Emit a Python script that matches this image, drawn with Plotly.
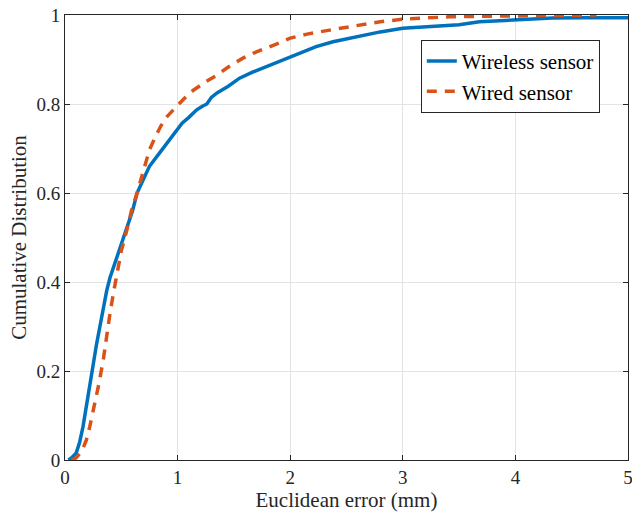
import plotly.graph_objects as go

wireless_x = [0.03, 0.06, 0.10, 0.13, 0.16, 0.20, 0.24, 0.28, 0.31, 0.34, 0.37, 0.40, 0.44, 0.48,
              0.52, 0.55, 0.60, 0.64, 0.70, 0.75, 0.81, 0.87, 0.93, 0.99, 1.04, 1.10, 1.17, 1.22,
              1.26, 1.30, 1.35, 1.45, 1.55, 1.67, 1.79, 1.90, 2.00, 2.12, 2.23, 2.38, 2.53, 2.70,
              2.80, 3.00, 3.30, 3.50, 3.68, 4.04, 4.33, 4.60, 5.00]
wireless_y = [0.0, 0.005, 0.016, 0.04, 0.075, 0.14, 0.20, 0.26, 0.30, 0.345, 0.38, 0.41, 0.44, 0.47,
              0.50, 0.517, 0.56, 0.60, 0.635, 0.66, 0.68, 0.70, 0.72, 0.74, 0.757, 0.77, 0.787, 0.795,
              0.80, 0.815, 0.825, 0.84, 0.858, 0.872, 0.884, 0.895, 0.905, 0.918, 0.929, 0.94, 0.948, 0.957,
              0.962, 0.970, 0.974, 0.978, 0.985, 0.989, 0.993, 0.994, 0.994]

wired_x = [0.06, 0.10, 0.15, 0.19, 0.22, 0.26, 0.30, 0.34, 0.37, 0.40, 0.43, 0.46, 0.50, 0.55,
           0.59, 0.64, 0.70, 0.75, 0.80, 0.85, 0.90, 0.95, 1.00, 1.07, 1.14, 1.25, 1.35, 1.45,
           1.58, 1.68, 1.79, 1.90, 2.00, 2.15, 2.35, 2.55, 2.80, 3.02, 3.20, 3.42, 3.70, 4.00,
           4.20, 4.45, 4.72]
wired_y = [0.0, 0.005, 0.02, 0.045, 0.075, 0.12, 0.17, 0.225, 0.28, 0.33, 0.375, 0.42, 0.47, 0.517,
           0.56, 0.60, 0.65, 0.697, 0.725, 0.75, 0.77, 0.785, 0.797, 0.815, 0.831, 0.85, 0.865, 0.883,
           0.903, 0.915, 0.925, 0.937, 0.948, 0.957, 0.966, 0.975, 0.985, 0.991, 0.993, 0.996, 0.997, 0.998,
           1.0, 1.0, 1.0]

x_ticks = [0, 1, 2, 3, 4, 5]
x_tick_labels = ["0", "1", "2", "3", "4", "5"]
y_ticks = [0, 0.2, 0.4, 0.6, 0.8, 1.0]
y_tick_labels = ["0", "0.2", "0.4", "0.6", "0.8", "1"]

FONT = "Liberation Serif"

fig = go.Figure()
fig.add_trace(go.Scatter(x=wireless_x, y=wireless_y, mode="lines", name="Wireless sensor",
                         line=dict(color="#0072BD", width=3.5)))
fig.add_trace(go.Scatter(x=wired_x, y=wired_y, mode="lines", name="Wired sensor",
                         line=dict(color="#D95319", width=3.5, dash="10px,8px")))

axis_common = dict(showline=True, linecolor="#262626", linewidth=1, mirror="ticks",
                   ticks="inside", ticklen=5, tickcolor="#262626", automargin=False,
                   showgrid=True, gridcolor="#e3e3e3", gridwidth=1, zeroline=False,
                   tickfont=dict(family=FONT, size=19, color="#262626"))

fig.update_layout(
    width=632, height=517,
    margin=dict(l=65, r=4, t=15, b=57),
    paper_bgcolor="white", plot_bgcolor="white",
    font=dict(family=FONT, color="#262626"),
    xaxis=dict(range=[0, 5], tickvals=x_ticks, ticktext=x_tick_labels, ticklabeloverflow="allow",
               title=dict(text="Euclidean error (mm)", font=dict(family=FONT, size=21), standoff=4),
               **axis_common),
    yaxis=dict(range=[0, 1], tickvals=y_ticks, ticktext=y_tick_labels,
               title=dict(text="Cumulative Distribution", font=dict(family=FONT, size=21), standoff=4),
               **axis_common),
    legend=dict(x=0.632, y=0.944, xanchor="left", yanchor="top",
                bgcolor="white", bordercolor="#262626", borderwidth=1,
                font=dict(family=FONT, size=21, color="black"),
                tracegroupgap=0, itemwidth=30),
    showlegend=True,
)

fig.write_html("out.html", config={"displayModeBar": False},
               post_script="document.body.style.margin='0';document.body.style.padding='0';")
